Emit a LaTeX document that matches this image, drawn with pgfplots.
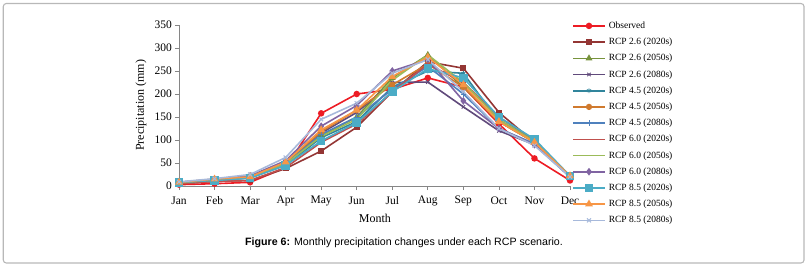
\documentclass[border=0pt]{standalone}
\usepackage{pgfplots}
\usepackage{pgfplotstable}
\pgfplotsset{compat=1.18}
\usepackage{fontspec}
\setmainfont{Liberation Serif}
\newfontfamily\capfont{Liberation Sans}
\definecolor{cObs}{HTML}{ED1C24}
\definecolor{cA}{HTML}{943634}
\definecolor{cB}{HTML}{77933C}
\definecolor{cC}{HTML}{604A7B}
\definecolor{cD}{HTML}{31859C}
\definecolor{cE}{HTML}{D07A2E}
\definecolor{cF}{HTML}{4F81BD}
\definecolor{cG}{HTML}{C0504D}
\definecolor{cH}{HTML}{9BBB59}
\definecolor{cI}{HTML}{8064A2}
\definecolor{cJ}{HTML}{4BACC6}
\definecolor{cK}{HTML}{F79646}
\definecolor{cL}{HTML}{A7B9DB}
\definecolor{axgray}{HTML}{868686}
\pgfplotstableread{
x obs  a    b    c    d    e    f    g    h    i    j    k    l
0  3   5    7    8    8    8    7    5    7    8    8    8    9
1  5   10   13   14   12   13   12   10   13   15   12   15   16
2  8   12   18   20   18   20   18   12   18   22   17   20   25
3  40  38   48   50   45   50   48   40   48   55   45   52   62
4  158 76   110  115  105  118  112  95   108  130  98   122  145
5  200 128  150  160  140  165  150  135  145  175  138  165  180
6  210 205  235  225  215  220  210  205  230  250  205  238  245
7  235 270  285  226  250  265  260  265  285  275  255  280  275
8  215 256  215  172  245  215  200  225  225  185  235  220  205
9  135 160  140  120  140  140  125  150  145  125  150  140  125
10 60  95   95   90   100  95   92   98   97   90   102  95   88
11 12  20   22   20   20   22   20   21   22   20   22   22   20
}\datatable
\begin{document}
\begin{tikzpicture}[x=1bp,y=1bp]
\useasboundingbox (-179,-82) rectangle (631,186);
\draw[color=black!28, line width=1.1bp, rounded corners=3bp] (-175.7,182.5) rectangle (625,-77);
\begin{axis}[
  scale only axis, width=391bp, height=161bp,
  at={(0,0)}, anchor=south west,
  xmin=0, xmax=11, ymin=0, ymax=350,
  axis x line*=bottom, axis y line*=left,
  axis line style={draw=axgray, line width=0.8bp},
  every tick/.style={draw=axgray, line width=0.8bp},
  tick align=outside, major tick length=4bp,
  xtick={0,...,11},
  xticklabels={Jan,Feb,Mar,Apr,May,Jun,Jul,Aug,Sep,Oct,Nov,Dec},
  ytick={0,50,...,350},
  /pgf/number format/assume math mode=true,
  tick label style={font=\fontsize{11.5bp}{13bp}\selectfont},
  yticklabel style={inner sep=0pt, anchor=east, xshift=-3bp},
  xticklabel style={inner sep=0pt, anchor=center, yshift=-11bp},
  label style={font=\fontsize{12bp}{14bp}\selectfont},
  xlabel={Month},
  ylabel={Precipitation (mm)},
  xlabel style={at={(axis description cs:0.501,-0.199)}, anchor=center, inner sep=0pt},
  ylabel style={at={(axis description cs:-0.097,0.5)}, anchor=center, inner sep=0pt},
  clip=false,
  legend image code/.code={\draw[mark repeat=2,mark phase=2,#1] plot coordinates {(0bp,0bp) (16bp,0bp) (32bp,0bp)};},
  legend style={draw=none, fill=none, inner sep=0pt, at={(axis description cs:1.0051,1.0236)}, anchor=north west,
    font=\fontsize{9.5bp}{10bp}\selectfont, row sep=7.2bp,
    nodes={inner sep=0pt, text height=7bp, text depth=2bp},
    /tikz/every odd column/.append style={column sep=3bp}},
  legend cell align=left,
]
\addplot[line width=1.6bp, color=cObs, mark=*, mark size=2.4bp, mark options={solid}] table[x=x,y=obs]{\datatable};
\addlegendentry{Observed}
\addplot[line width=1.6bp, color=cA, mark=square*, mark size=2.1bp] table[x=x,y=a]{\datatable};
\addlegendentry{RCP 2.6 (2020s)}
\addplot[line width=1.6bp, color=cB, mark=triangle*, mark size=2.4bp] table[x=x,y=b]{\datatable};
\addlegendentry{RCP 2.6 (2050s)}
\addplot[line width=1.6bp, color=cC, mark=x, mark size=2.4bp, mark options={line width=1bp}] table[x=x,y=c]{\datatable};
\addlegendentry{RCP 2.6 (2080s)}
\addplot[line width=1.6bp, color=cD, mark=asterisk, mark size=2.4bp, mark options={line width=0.8bp}] table[x=x,y=d]{\datatable};
\addlegendentry{RCP 4.5 (2020s)}
\addplot[line width=1.6bp, color=cE, mark=*, mark size=2.3bp] table[x=x,y=e]{\datatable};
\addlegendentry{RCP 4.5 (2050s)}
\addplot[line width=1.6bp, color=cF, mark=+, mark size=2.8bp, mark options={line width=1bp}] table[x=x,y=f]{\datatable};
\addlegendentry{RCP 4.5 (2080s)}
\addplot[line width=1.6bp, color=cG, mark=-, mark size=2.8bp, mark options={line width=1.6bp}] table[x=x,y=g]{\datatable};
\addlegendentry{RCP 6.0 (2020s)}
\addplot[line width=1.6bp, color=cH] table[x=x,y=h]{\datatable};
\addlegendentry{RCP 6.0 (2050s)}
\addplot[line width=1.6bp, color=cI, mark=diamond*, mark size=2.6bp] table[x=x,y=i]{\datatable};
\addlegendentry{RCP 6.0 (2080s)}
\addplot[line width=1.6bp, color=cJ, mark=square*, mark size=3.5bp] table[x=x,y=j]{\datatable};
\addlegendentry{RCP 8.5 (2020s)}
\addplot[line width=1.6bp, color=cK, mark=triangle*, mark size=3bp] table[x=x,y=k]{\datatable};
\addlegendentry{RCP 8.5 (2050s)}
\addplot[line width=1.6bp, color=cL, mark=x, mark size=2.8bp, mark options={line width=1bp}] table[x=x,y=l]{\datatable};
\addlegendentry{RCP 8.5 (2080s)}
\end{axis}
\node[anchor=west, inner sep=0pt, font=\capfont\fontsize{10.65bp}{12bp}\selectfont] at (66,-57) {\textbf{Figure 6:} Monthly precipitation changes under each RCP scenario.};
\end{tikzpicture}
\end{document}
